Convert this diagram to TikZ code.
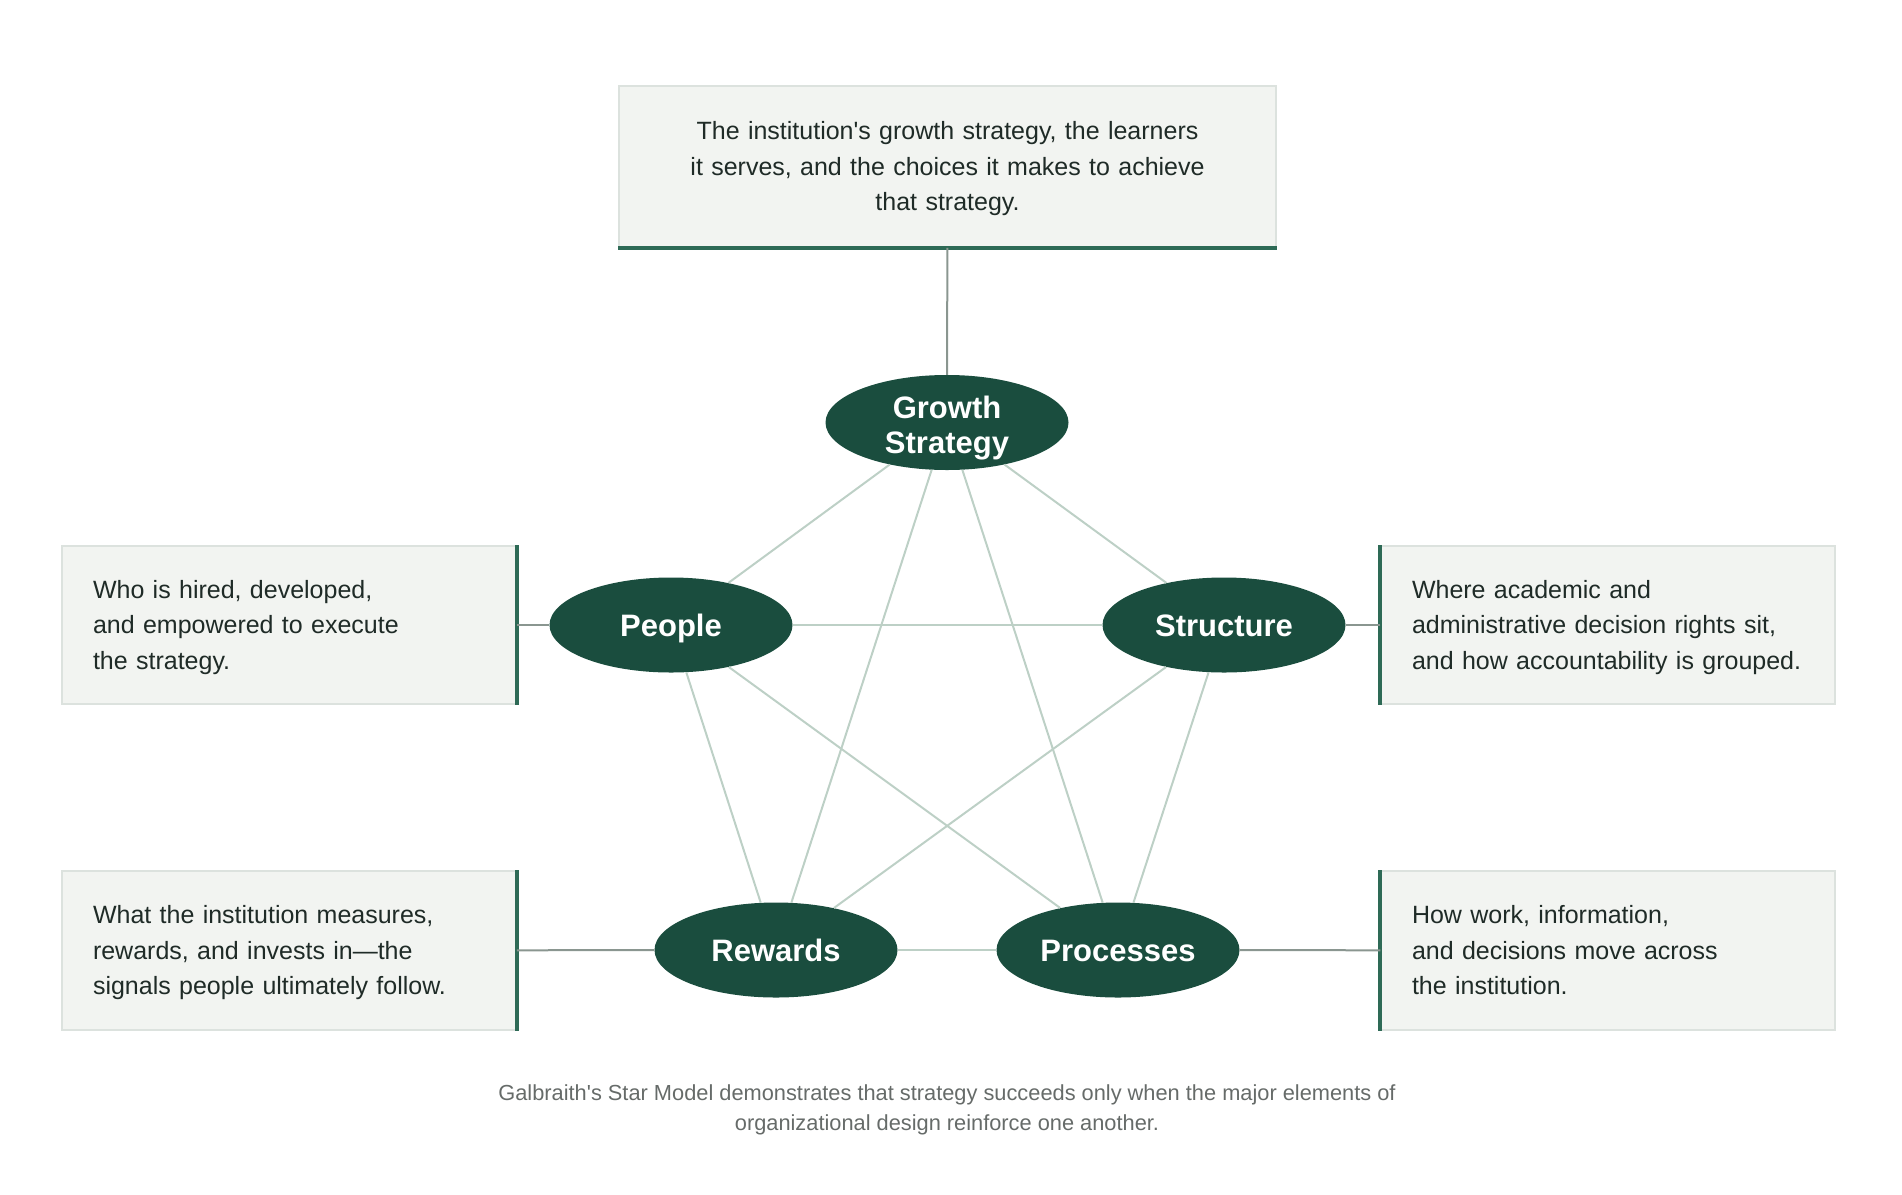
\documentclass[tikz,border=0pt]{standalone}
\usepackage{fontspec}
\setmainfont{Liberation Sans}
\usepackage{xcolor}
\usetikzlibrary{shapes,positioning,calc}

\definecolor{starGreen}{HTML}{1A4D3E}
\definecolor{barGreen}{HTML}{2E6A56}
\definecolor{boxFill}{HTML}{F2F4F1}
\definecolor{boxLine}{HTML}{DCE2DE}
\definecolor{edgeSage}{HTML}{BDD0C6}
\definecolor{linkGray}{HTML}{8A9690}
\definecolor{textDark}{HTML}{1F2B27}
\definecolor{capGray}{HTML}{666B69}

\begin{document}
\begin{tikzpicture}[x=1pt, y=-1pt,
    elem/.style={ellipse, fill=starGreen, text=white, minimum width=243, minimum height=95,
      inner sep=0pt, align=center, text height=23pt, text depth=0pt,
      font=\fontsize{31}{35}\selectfont\bfseries},
    infobox/.style={draw=boxLine, line width=1.5pt, fill=boxFill, text=textDark,
      inner sep=0pt, text height=18pt, text depth=71.4pt, font=\fontsize{25}{35.5}\selectfont},
    accent/.style={draw=barGreen, line width=4pt},
    starline/.style={draw=edgeSage, line width=2pt},
    link/.style={draw=linkGray, line width=2pt}]
    \useasboundingbox (0,0) rectangle (1902,1194);

    % Description boxes
    \node [infobox, minimum width=657, minimum height=161, text width=560, align=center] (gsbox) at (947.5,166.5)
        {The institution\textquotesingle s growth strategy, the learners\\it serves, and the choices it makes to achieve\\that strategy.};
    \node [infobox, minimum width=454, minimum height=158, text width=392, align=left] (pebox) at (289,625)
        {Who is hired, developed,\\and empowered to execute\\the strategy.};
    \node [infobox, minimum width=454, minimum height=158, text width=392, align=left] (stbox) at (1608,625)
        {Where academic and\\administrative decision rights sit,\\and how accountability is grouped.};
    \node [infobox, minimum width=454, minimum height=159, text width=392, align=left] (rwbox) at (289,950.5)
        {What the institution measures,\\rewards, and invests in---the\\signals people ultimately follow.};
    \node [infobox, minimum width=454, minimum height=159, text width=392, align=left] (prbox) at (1608,950.5)
        {How work, information,\\and decisions move across\\the institution.};

    % Accent bars
    \draw [accent] (gsbox.south west) -- (gsbox.south east);
    \draw [accent] (pebox.north east) -- (pebox.south east);
    \draw [accent] (rwbox.north east) -- (rwbox.south east);
    \draw [accent] (stbox.north west) -- (stbox.south west);
    \draw [accent] (prbox.north west) -- (prbox.south west);

    % Star elements
    \node [elem, text height=61pt] (gs) at (947,422.5) {Growth\\Strategy};
    \node [elem] (pe) at (671,625) {People};
    \node [elem] (st) at (1224,625) {Structure};
    \node [elem] (rw) at (776,950) {Rewards};
    \node [elem] (pr) at (1118,950) {Processes};

    % Every element linked to every other
    \foreach \a/\b in {gs/pe, gs/st, gs/rw, gs/pr, pe/st, pe/rw, pe/pr, st/rw, st/pr, rw/pr} {
        \draw [starline] (\a) -- (\b);
    }

    % Box to element
    \draw [link] (gsbox) -- (gs);
    \draw [link] (pebox) -- (pe);
    \draw [link] (stbox) -- (st);
    \draw [link] (rwbox) -- (rw);
    \draw [link] (prbox) -- (pr);

    % Caption
    \node [text=capGray, align=center, text height=30pt, text depth=0pt,
        font=\fontsize{21.8}{30}\selectfont] (caption) at (947,1115)
        {Galbraith\textquotesingle s Star Model demonstrates that strategy succeeds only when the major elements of\\organizational design reinforce one another.};
\end{tikzpicture}
\end{document}
